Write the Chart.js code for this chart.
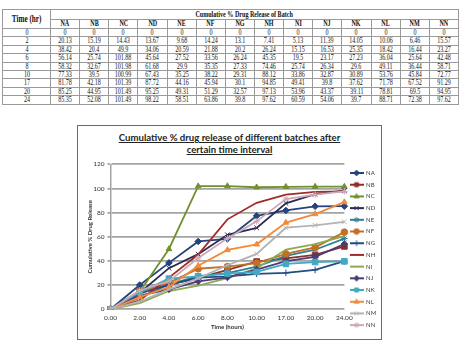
<!DOCTYPE html>
<html>
<head>
<meta charset="utf-8">
<script src="https://cdn.jsdelivr.net/npm/chart.js@4.4.0/dist/chart.umd.min.js"></script>
<style>
html, body { margin: 0; padding: 0; background: #fff; }
body { width: 462px; height: 345px; position: relative; overflow: hidden; }
#release { position: absolute; left: 2px; top: 9px; width: 457px; border-collapse: collapse; table-layout: fixed;
  font-family: "Liberation Serif", "Times New Roman", serif; font-size: 8px; color: #111; }
#release td, #release th { border: 1px solid #9a9a9a; padding: 0; text-align: center; line-height: 7.4px; white-space: nowrap; }
#release th { font-weight: bold; }
#release span { display: inline-block; transform: scaleX(0.76); }
#release tr.h1 th { line-height: 9px; }
#release tr.h2 th { line-height: 8px; }
#release th.time { font-size: 9.5px; }
#release th.group { padding-right: 21px; }
#frame { position: absolute; left: 77px; top: 125px; width: 305px; height: 215px; box-sizing: border-box; border: 1.5px solid #6a6a6a; }
#title { position: absolute; left: 77px; top: 132px; width: 305px; text-align: center; font-family: Lato, "Liberation Sans", sans-serif;
  font-weight: bold; font-size: 9.6px; line-height: 12px; color: #222; text-decoration: underline; }
#chart { position: absolute; left: 0; top: 0; }
</style>
</head>
<body>
<table id="release">
  <colgroup><col style="width:48px"></colgroup>
  <thead>
    <tr class="h1"><th class="time" rowspan="2"><span>Time (hr)</span></th><th class="group" colspan="14"><span>Cumulative % Drug Release of Batch</span></th></tr>
    <tr class="h2" id="batchRow"></tr>
  </thead>
  <tbody id="releaseBody"></tbody>
</table>
<div id="frame"></div>
<div id="title">Cumulative % drug release of different batches after<br>certain time interval</div>
<canvas id="chart" width="462" height="345"></canvas>
<script>
// time points (hr) and axis labels
const times = ['0', '2', '4', '6', '8', '10', '17', '20', '24'];
const timeLabels = ['0.00', '2.00', '4.00', '6.00', '8.00', '10.00', '17.00', '20.00', '24.00'];
const batches = ['NA', 'NB', 'NC', 'ND', 'NE', 'NF', 'NG', 'NH', 'NI', 'NJ', 'NK', 'NL', 'NM', 'NN'];

// cumulative % drug release per batch
const NA = [0, 20.13, 38.42, 56.14, 58.32, 77.33, 81.78, 85.25, 85.35];
const NB = [0, 15.19, 20.4, 25.74, 32.67, 39.5, 42.18, 44.95, 52.08];
const NC = [0, 14.43, 49.9, 101.88, 101.98, 100.99, 101.39, 101.49, 101.49];
const ND = [0, 13.67, 34.06, 45.64, 61.68, 67.43, 87.72, 95.25, 98.22];
const NE = [0, 9.68, 20.59, 27.52, 29.9, 35.25, 44.16, 49.31, 58.51];
const NF = [0, 14.24, 21.88, 33.56, 35.35, 38.22, 45.94, 51.29, 63.86];
const NG = [0, 13.1, 20.2, 26.24, 27.33, 29.31, 30.1, 32.57, 39.8];
const NH = [0, 7.41, 26.24, 45.35, 74.46, 88.12, 94.85, 97.13, 97.62];
const NI = [0, 5.13, 15.15, 19.5, 25.74, 33.86, 49.41, 53.96, 60.59];
const NJ = [0, 11.39, 16.53, 23.17, 26.34, 32.87, 39.8, 43.37, 54.06];
const NK = [0, 14.05, 25.35, 27.23, 29.6, 30.89, 37.62, 39.11, 39.7];
const NL = [0, 10.06, 18.42, 36.04, 49.11, 53.76, 71.78, 78.81, 88.71];
const NM = [0, 6.46, 16.44, 25.64, 36.44, 45.84, 67.52, 69.5, 72.38];
const NN = [0, 15.57, 23.27, 42.48, 58.71, 72.77, 91.29, 94.95, 97.62];
const seriesData = [NA, NB, NC, ND, NE, NF, NG, NH, NI, NJ, NK, NL, NM, NN];

const colors = ['#24437c', '#8c2f2d', '#71902f', '#2d2b52', '#2f8096', '#c46f22', '#214c84',
                '#a12b2b', '#8cab50', '#4d3b75', '#42a8c3', '#f28a3c', '#b3b3b3', '#cba9b6'];
const markers = ['rectRot', 'rect', 'triangle', 'crossRot', 'star', 'circle', 'cross',
                 false, false, 'rectRot', 'rect', 'triangle', 'crossRot', 'star'];

// table
document.getElementById('batchRow').innerHTML = batches.map(b => `<th><span>${b}</span></th>`).join('');
document.getElementById('releaseBody').innerHTML = times.map((t, i) =>
  `<tr><td><span>${t}</span></td>${seriesData.map(s => `<td><span>${s[i]}</span></td>`).join('')}</tr>`
).join('');

// legend icons: short line with marker
function makeIcon(color, style) {
  const c = document.createElement('canvas');
  c.width = 14; c.height = 8;
  const ctx = c.getContext('2d');
  ctx.strokeStyle = color;
  ctx.lineWidth = 2;
  ctx.beginPath(); ctx.moveTo(0, 4); ctx.lineTo(14, 4); ctx.stroke();
  if (style && Chart.helpers && Chart.helpers.drawPoint) {
    ctx.fillStyle = color;
    ctx.lineWidth = 1;
    Chart.helpers.drawPoint(ctx, { pointStyle: style, radius: 2.8, borderWidth: 1, rotation: 0 }, 7, 4);
  }
  return c;
}
const icons = batches.map((b, i) => makeIcon(colors[i], markers[i]));

const datasets = batches.map((b, i) => ({
  label: b,
  data: seriesData[i],
  borderColor: colors[i],
  backgroundColor: colors[i],
  borderWidth: 1.8,
  pointStyle: markers[i] || 'circle',
  pointRadius: markers[i] ? (markers[i] === 'rect' ? 4 : 3.3) : 0,
  pointBorderWidth: 1,
  tension: 0,
  order: batches.length - i
}));

const axisFont = { family: 'Lato, "Liberation Sans", sans-serif', size: 6.5 };

new Chart(document.getElementById('chart'), {
  type: 'line',
  data: { labels: timeLabels, datasets },
  options: {
    responsive: false,
    animation: false,
    layout: { padding: { left: 82, top: 164.3, right: 75.8, bottom: 7 } },
    plugins: {
      legend: {
        position: 'right',
        align: 'start',
        labels: {
          usePointStyle: true,
          pointStyleWidth: 13,
          padding: 5.7,
          color: '#404040',
          font: { family: 'Lato, "Liberation Sans", sans-serif', size: 6 },
          sort: (a, b) => a.datasetIndex - b.datasetIndex,
          generateLabels: chart => Chart.defaults.plugins.legend.labels.generateLabels(chart)
            .map(l => ({ ...l, pointStyle: icons[l.datasetIndex] }))
        }
      },
      tooltip: { enabled: false }
    },
    scales: {
      x: {
        grid: { display: false, drawTicks: false },
        border: { display: false },
        ticks: { color: '#333', font: axisFont, padding: 5, maxRotation: 0, autoSkip: false },
        title: { display: true, text: 'Time (hours)', color: '#333',
                 font: { family: 'Lato, "Liberation Sans", sans-serif', size: 6, weight: 'bold' },
                 padding: { top: 0, bottom: 7 } },
        afterFit: s => { s.height = 28.7; }
      },
      y: {
        min: 0,
        max: 120,
        ticks: { stepSize: 20, color: '#333', font: axisFont, padding: 3 },
        grid: { color: '#a3a3a3', lineWidth: 1.8, tickLength: 3 },
        border: { color: '#a3a3a3', width: 1.5 },
        title: { display: true, text: 'Cumulative % Drug Release', color: '#333',
                 font: { family: 'Lato, "Liberation Sans", sans-serif', size: 6, weight: 'bold' },
                 padding: { top: 4, bottom: 0 } },
        afterFit: s => { s.width = 28.5; }
      }
    }
  }
});
</script>
</body>
</html>
